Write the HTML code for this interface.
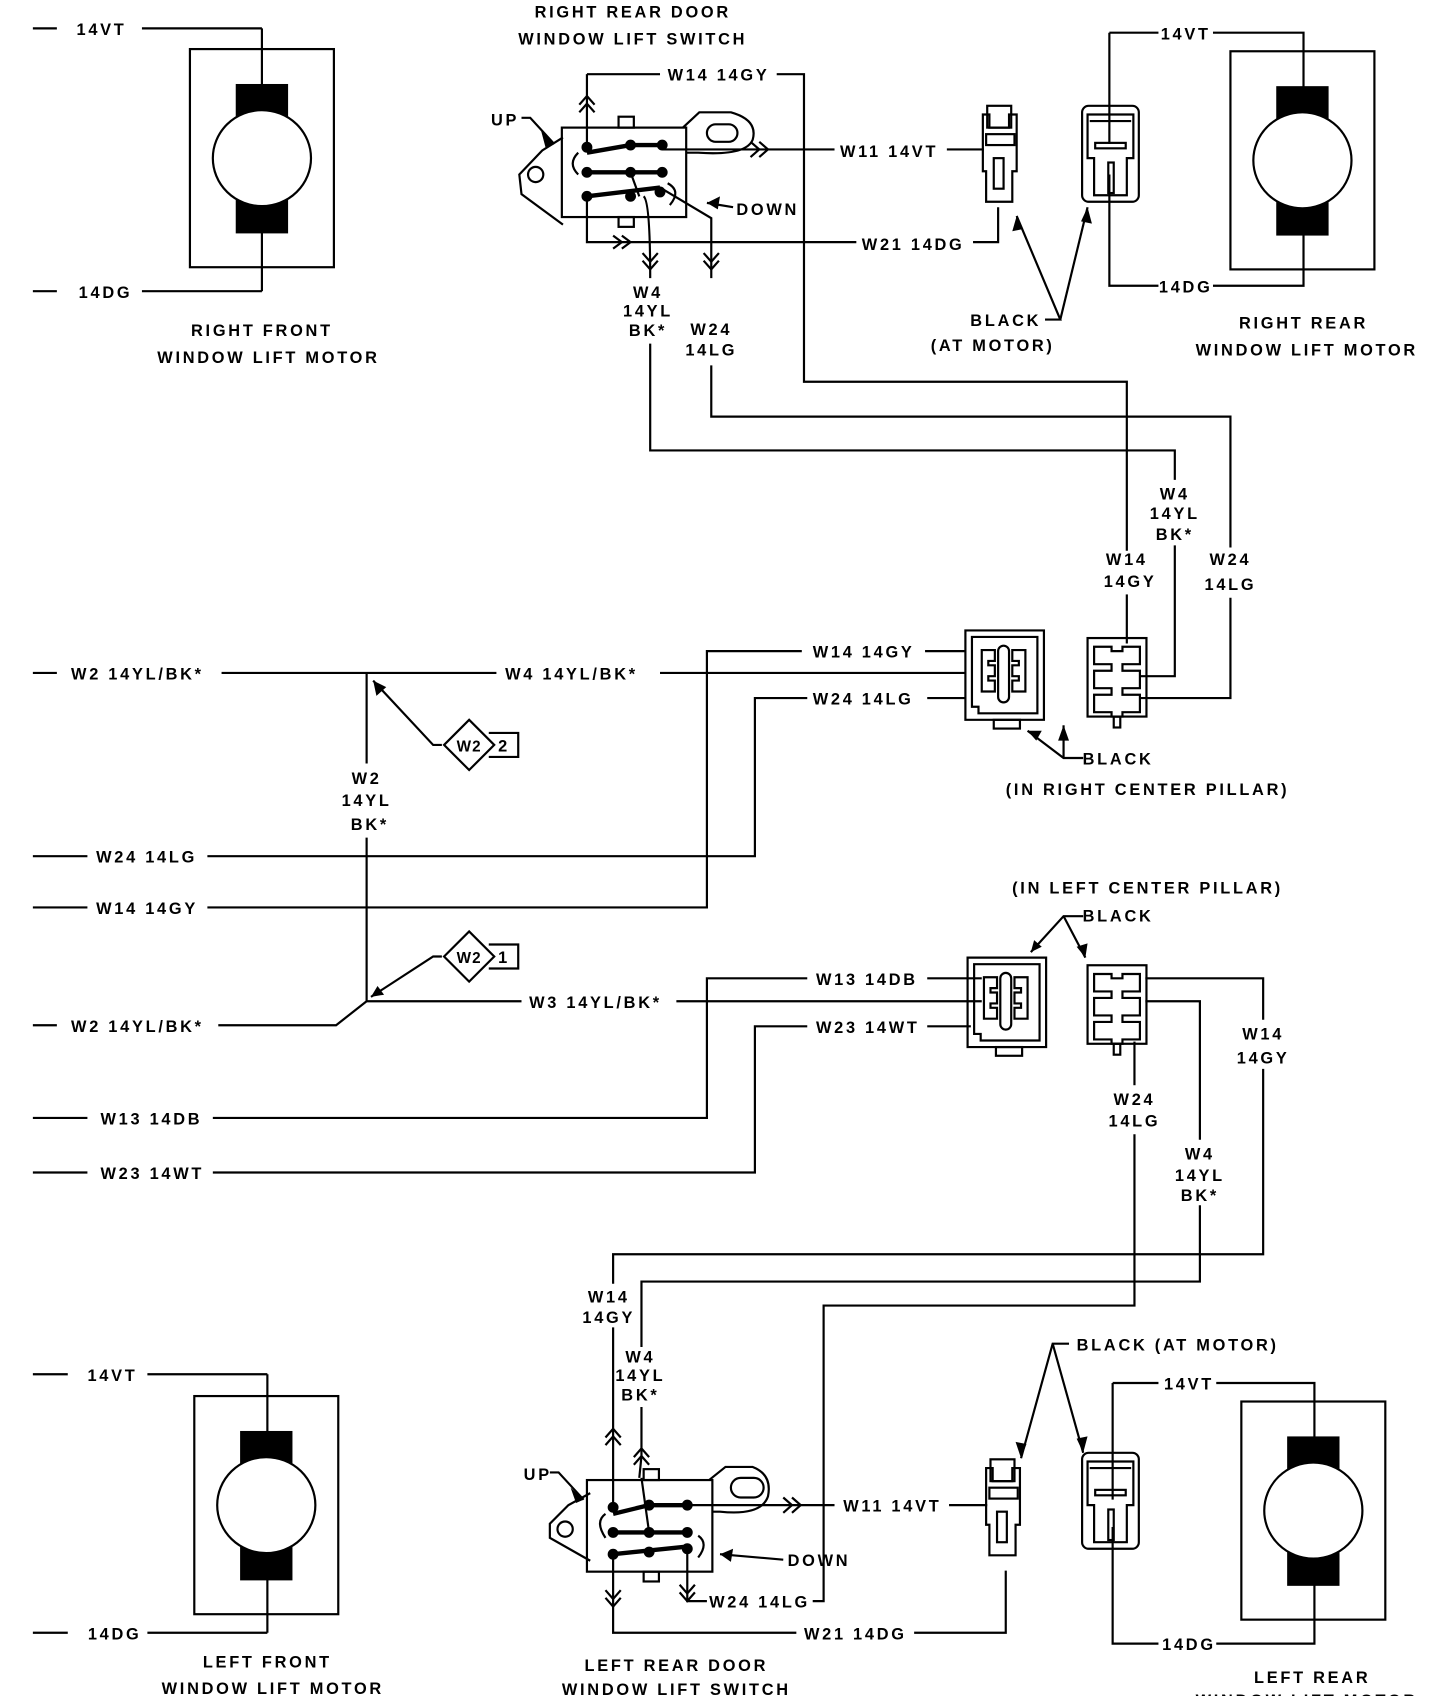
<!DOCTYPE html>
<html><head><meta charset="utf-8"><style>
html,body{margin:0;padding:0;background:#fff}
svg{display:block}
text{font-family:"Liberation Sans",sans-serif;font-weight:bold;font-size:15px;letter-spacing:2.5px;fill:#000}
</style></head><body>
<svg width="1440" height="1696" viewBox="0 0 1320 1555" xmlns="http://www.w3.org/2000/svg">
<defs>
<g id="motor" fill="none" stroke="#000" stroke-width="2">
 <rect x="0" y="0" width="132" height="200"/>
 <rect x="43" y="33" width="46" height="32" fill="#000"/>
 <rect x="43" y="135" width="46" height="33" fill="#000"/>
 <ellipse cx="66" cy="100" rx="45" ry="44" fill="#fff"/>
</g>
<g id="smallc" fill="none" stroke="#000" stroke-width="2">
 <rect x="8" y="0" width="22" height="20" fill="#fff"/>
 <path d="M4,8 h6 v12 h18 v-12 h7 v52 h-4 v28 h-24 v-28 h-3 z"/>
 <rect x="7" y="26" width="26" height="10"/>
 <rect x="14" y="48" width="9" height="28"/>
</g>
<g id="bigc" fill="none" stroke="#000" stroke-width="2">
 <rect x="0" y="0" width="52" height="88" rx="6"/>
 <path d="M5,8 h42 v40 h-6 v34 h-30 v-34 h-6 z"/>
 <line x1="7" y1="14" x2="45" y2="14"/>
 <rect x="12" y="34" width="28" height="5"/>
 <rect x="24" y="52" width="5" height="28"/>
</g>
<g id="femc" fill="none" stroke="#000" stroke-width="2">
 <path d="M0,0 h72 v82 h-72 z"/>
 <path d="M6,6 h60 v70 h-54 v-6 h-6 z"/>
 <rect x="26" y="82" width="24" height="8"/>
 <path d="M15,18 h12 v10 h-6 v4 h6 v10 h-6 v4 h6 v10 h-12 z"/>
 <path d="M55,18 h-12 v10 h6 v4 h-6 v10 h6 v4 h-6 v10 h12 z"/>
 <rect x="30" y="14" width="10" height="52" rx="5"/>
</g>
<g id="malec" fill="none" stroke="#000" stroke-width="2">
 <rect x="0" y="0" width="54" height="72"/>
 <path d="M6,8 h16 v4 h10 v-4 h16 v16 h-16 v6 h16 v16 h-16 v6 h16 v16 h-16 v4 h-10 v-4 h-16 v-16 h16 v-6 h-16 v-16 h16 v-6 h-16 z"/>
 <rect x="24" y="72" width="6" height="10"/>
</g>
</defs>

<g fill="none" stroke="#000" stroke-width="2">
<use href="#motor" x="174" y="45"/>
<line x1="30" y1="26" x2="52" y2="26"/><line x1="130" y1="26" x2="240" y2="26"/><line x1="240" y1="26" x2="240" y2="78"/>
<line x1="30" y1="267" x2="52" y2="267"/><line x1="130" y1="267" x2="240" y2="267"/><line x1="240" y1="267" x2="240" y2="213"/>

<path d="M516,126 L497,138 L476,160 L478,178 L516,206"/>
<circle cx="491" cy="160" r="7"/>
<rect x="515" y="117" width="114" height="82"/>
<rect x="567" y="107" width="14" height="10"/><rect x="567" y="199" width="14" height="9"/>
<path d="M626,117 L641,103 L670,103 Q695,110 690,128 Q684,143 640,140 L629,140"/>
<rect x="648" y="114" width="28" height="16" rx="8"/>
<g stroke-width="4"><line x1="538" y1="140" x2="578" y2="133"/><line x1="578" y1="133" x2="607" y2="133"/>
<line x1="538" y1="158" x2="607" y2="158"/><line x1="538" y1="180" x2="605" y2="172"/></g>
<g fill="#000"><circle cx="538" cy="135" r="4"/><circle cx="578" cy="133" r="4"/><circle cx="607" cy="133" r="4"/><circle cx="538" cy="158" r="4"/><circle cx="578" cy="158" r="4"/><circle cx="607" cy="158" r="4"/><circle cx="538" cy="180" r="4"/><circle cx="578" cy="180" r="4"/><circle cx="605" cy="176" r="4"/></g>
<path d="M530,140 Q520,150 530,160"/><path d="M612,168 Q625,175 614,188"/>
<line x1="578" y1="158" x2="586" y2="180"/>
<path d="M538,68 L538,135"/><path d="M531,96 L538,88 L545,96 M531,103 L538,95 L545,103"/>
<path d="M538,68 L605,68"/><path d="M712,68 L737,68 L737,350 L1033,350 L1033,505"/>
<path d="M607,137 L765,137"/><path d="M688,130 L696,137 L688,144 M696,130 L704,137 L696,144"/><path d="M868,137 L902,137"/>
<path d="M538,180 L538,222 L785,222"/><path d="M562,216 L570,222 L562,228 M570,216 L578,222 L570,228"/><path d="M892,222 L915,222 L915,190"/>
<path d="M590,180 Q596,185 596,255"/><path d="M589,232 L596,240 L603,232 M589,239 L596,247 L603,239"/>
<path d="M596,315 L596,413 L1077,413 L1077,440"/>
<path d="M605,172 L652,200 L652,255"/><path d="M645,232 L652,240 L659,232 M645,239 L652,247 L659,239"/>
<path d="M652,335 L652,382 L1128,382 L1128,502"/>
<path d="M478,108 L486,108 L508,132"/>
<path d="M672,190 L648,186"/>

<use href="#smallc" x="897" y="97"/>
<use href="#bigc" x="992" y="97"/>
<use href="#motor" x="1128" y="47"/>
<path d="M1017,30 L1062,30"/><path d="M1112,30 L1195,30 L1195,80"/><path d="M1017,30 L1017,132"/>
<path d="M1017,160 L1017,262 L1062,262"/><path d="M1112,262 L1195,262 L1195,215"/>
<path d="M958,293 L972,293 L932,198"/><path d="M972,293 L997,190"/>

<line x1="30" y1="617" x2="52" y2="617"/><line x1="203" y1="617" x2="455" y2="617"/><line x1="605" y1="617" x2="885" y2="617"/>
<line x1="336" y1="617" x2="336" y2="700"/><line x1="336" y1="768" x2="336" y2="918"/>
<path d="M405,683 L397,683 L342,624"/>
<path d="M407,683 L430,660 L453,683 L430,706 Z"/><path d="M448,672 L475,672 L475,694 L448,694"/>
<path d="M30,785 L80,785"/><path d="M190,785 L692,785 L692,640 L740,640"/><path d="M850,640 L885,640"/>
<path d="M30,832 L80,832"/><path d="M190,832 L648,832 L648,597 L735,597"/><path d="M848,597 L885,597"/>
<use href="#femc" x="885" y="578"/>
<use href="#malec" x="997" y="585"/>
<path d="M1033,545 L1033,590"/><path d="M1077,500 L1077,620 L1045,620"/><path d="M1128,548 L1128,640 L1045,640"/>
<path d="M993,695 L975,695 L942,670"/><path d="M975,695 L975,665"/>

<line x1="30" y1="940" x2="52" y2="940"/><path d="M200,940 L308,940 L336,918 L478,918"/><path d="M620,918 L900,918"/>
<path d="M405,877 L397,877 L340,914"/>
<path d="M407,877 L430,854 L453,877 L430,900 Z"/><path d="M448,866 L475,866 L475,888 L448,888"/>
<path d="M30,1025 L80,1025"/><path d="M195,1025 L648,1025 L648,897 L740,897"/><path d="M850,897 L900,897"/>
<path d="M30,1075 L80,1075"/><path d="M195,1075 L692,1075 L692,941 L740,941"/><path d="M850,941 L890,941"/>
<use href="#femc" x="887" y="878"/>
<use href="#malec" x="997" y="885"/>
<path d="M993,840 L975,840 L945,873"/><path d="M975,840 L995,878"/>
<path d="M1050,897 L1158,897 L1158,935"/><path d="M1158,980 L1158,1150 L562,1150 L562,1177"/>
<path d="M1040,955 L1040,995"/><path d="M1040,1040 L1040,1197 L755,1197 L755,1468 L745,1468"/>
<path d="M1050,918 L1100,918 L1100,1045"/><path d="M1100,1105 L1100,1175 L588,1175 L588,1235"/>

<path d="M562,1217 L562,1380"/><path d="M555,1318 L562,1310 L569,1318 M555,1325 L562,1317 L569,1325"/>
<path d="M588,1290 L588,1335 L586,1355"/><path d="M581,1336 L588,1328 L595,1336 M581,1343 L588,1335 L595,1343"/>
<path d="M541,1369 L521,1380 L504,1397 L504,1410 L541,1431"/>
<circle cx="518" cy="1402" r="7"/>
<rect x="538" y="1357" width="115" height="84"/>
<rect x="590" y="1347" width="14" height="10"/><rect x="590" y="1441" width="14" height="9"/>
<path d="M650,1357 L665,1345 L690,1345 Q708,1352 704,1372 Q698,1390 660,1386 L653,1386"/>
<rect x="670" y="1355" width="30" height="18" rx="9"/>
<g stroke-width="4"><line x1="562" y1="1388" x2="595" y2="1380"/><line x1="595" y1="1380" x2="630" y2="1380"/>
<line x1="562" y1="1405" x2="630" y2="1405"/><line x1="562" y1="1425" x2="630" y2="1418"/></g>
<g fill="#000"><circle cx="562" cy="1382" r="4"/><circle cx="595" cy="1380" r="4"/><circle cx="630" cy="1380" r="4"/><circle cx="562" cy="1405" r="4"/><circle cx="595" cy="1405" r="4"/><circle cx="630" cy="1405" r="4"/><circle cx="562" cy="1425" r="4"/><circle cx="595" cy="1423" r="4"/><circle cx="630" cy="1420" r="4"/></g>
<path d="M555,1388 Q545,1395 555,1410"/><path d="M640,1408 Q650,1415 640,1428"/>
<line x1="588" y1="1355" x2="595" y2="1405"/>
<path d="M562,1425 L562,1497 L730,1497"/><path d="M555,1458 L562,1466 L569,1458 M555,1465 L562,1473 L569,1465"/>
<path d="M630,1420 L630,1468 L648,1468"/><path d="M623,1453 L630,1461 L637,1453 M623,1460 L630,1468 L637,1460"/>
<path d="M630,1380 L765,1380"/><path d="M718,1373 L726,1380 L718,1387 M726,1373 L734,1380 L726,1387"/><path d="M870,1380 L905,1380"/>
<path d="M838,1497 L922,1497 L922,1440"/>
<path d="M504,1350 L512,1350 L535,1375"/>
<path d="M718,1430 L660,1425"/>
<use href="#smallc" x="900" y="1338"/>
<use href="#bigc" x="992" y="1332"/>
<path d="M980,1232 L965,1232 L936,1337"/><path d="M965,1232 L993,1332"/>
<use href="#motor" x="1138" y="1285"/>
<path d="M1020,1268 L1062,1268"/><path d="M1115,1268 L1205,1268 L1205,1318"/><path d="M1020,1268 L1020,1375"/>
<path d="M1020,1400 L1020,1507 L1062,1507"/><path d="M1115,1507 L1205,1507 L1205,1452"/>

<use href="#motor" x="178" y="1280"/>
<line x1="30" y1="1260" x2="62" y2="1260"/><line x1="135" y1="1260" x2="245" y2="1260"/><line x1="245" y1="1260" x2="245" y2="1313"/>
<line x1="30" y1="1497" x2="62" y2="1497"/><line x1="135" y1="1497" x2="245" y2="1497"/><line x1="245" y1="1497" x2="245" y2="1448"/>
</g>

<g fill="#000">
<polygon points="508,132 496,120 500,135"/>
<polygon points="648,186 660,180 658,192"/>
<polygon points="932,198 928,212 938,210"/>
<polygon points="997,190 991,203 1001,205"/>
<polygon points="342,624 345,638 354,630"/>
<polygon points="340,914 346,904 352,912"/>
<polygon points="942,670 950,679 955,670"/>
<polygon points="975,665 970,679 980,679"/>
<polygon points="945,873 948,862 955,868"/>
<polygon points="995,878 987,868 997,865"/>
<polygon points="535,1375 523,1364 528,1378"/>
<polygon points="660,1425 672,1420 670,1432"/>
<polygon points="936,1337 931,1322 941,1324"/>
<polygon points="993,1332 987,1319 997,1317"/>
</g>

<text x="70" y="32">14VT</text>
<text x="72" y="273">14DG</text>
<text x="240" y="308" text-anchor="middle">RIGHT FRONT</text>
<text x="246" y="333" text-anchor="middle">WINDOW LIFT MOTOR</text>
<text x="580" y="16" text-anchor="middle">RIGHT REAR DOOR</text>
<text x="580" y="41" text-anchor="middle">WINDOW LIFT SWITCH</text>
<text x="612" y="74">W14 14GY</text>
<text x="450" y="115">UP</text>
<text x="675" y="197">DOWN</text>
<text x="770" y="144">W11 14VT</text>
<text x="790" y="229">W21 14DG</text>
<text x="594" y="273" text-anchor="middle">W4</text>
<text x="594" y="290" text-anchor="middle">14YL</text>
<text x="594" y="308" text-anchor="middle">BK*</text>
<text x="652" y="307" text-anchor="middle">W24</text>
<text x="652" y="326" text-anchor="middle">14LG</text>
<text x="922" y="299" text-anchor="middle">BLACK</text>
<text x="910" y="322" text-anchor="middle">(AT MOTOR)</text>
<text x="1087" y="36" text-anchor="middle">14VT</text>
<text x="1087" y="268" text-anchor="middle">14DG</text>
<text x="1195" y="301" text-anchor="middle">RIGHT REAR</text>
<text x="1198" y="326" text-anchor="middle">WINDOW LIFT MOTOR</text>
<text x="1077" y="458" text-anchor="middle">W4</text>
<text x="1077" y="476" text-anchor="middle">14YL</text>
<text x="1077" y="495" text-anchor="middle">BK*</text>
<text x="1033" y="518" text-anchor="middle">W14</text>
<text x="1036" y="538" text-anchor="middle">14GY</text>
<text x="1128" y="518" text-anchor="middle">W24</text>
<text x="1128" y="541" text-anchor="middle">14LG</text>
<text x="65" y="623">W2 14YL/BK*</text>
<text x="463" y="623">W4 14YL/BK*</text>
<text x="745" y="603">W14 14GY</text>
<text x="745" y="646">W24 14LG</text>
<text x="430" y="689" text-anchor="middle" style="font-size:14px;letter-spacing:1px">W2</text>
<text x="462" y="689" text-anchor="middle">2</text>
<text x="336" y="719" text-anchor="middle">W2</text>
<text x="336" y="739" text-anchor="middle">14YL</text>
<text x="339" y="761" text-anchor="middle">BK*</text>
<text x="1025" y="701" text-anchor="middle">BLACK</text>
<text x="1052" y="729" text-anchor="middle">(IN RIGHT CENTER PILLAR)</text>
<text x="88" y="791">W24 14LG</text>
<text x="88" y="838">W14 14GY</text>
<text x="1052" y="819" text-anchor="middle">(IN LEFT CENTER PILLAR)</text>
<text x="1025" y="845" text-anchor="middle">BLACK</text>
<text x="430" y="883" text-anchor="middle" style="font-size:14px;letter-spacing:1px">W2</text>
<text x="462" y="883" text-anchor="middle">1</text>
<text x="65" y="946">W2 14YL/BK*</text>
<text x="485" y="924">W3 14YL/BK*</text>
<text x="748" y="903">W13 14DB</text>
<text x="748" y="947">W23 14WT</text>
<text x="1158" y="953" text-anchor="middle">W14</text>
<text x="1158" y="975" text-anchor="middle">14GY</text>
<text x="1040" y="1013" text-anchor="middle">W24</text>
<text x="1040" y="1033" text-anchor="middle">14LG</text>
<text x="1100" y="1063" text-anchor="middle">W4</text>
<text x="1100" y="1083" text-anchor="middle">14YL</text>
<text x="1100" y="1101" text-anchor="middle">BK*</text>
<text x="92" y="1031">W13 14DB</text>
<text x="92" y="1081">W23 14WT</text>
<text x="558" y="1194" text-anchor="middle">W14</text>
<text x="558" y="1213" text-anchor="middle">14GY</text>
<text x="587" y="1249" text-anchor="middle">W4</text>
<text x="587" y="1266" text-anchor="middle">14YL</text>
<text x="587" y="1284" text-anchor="middle">BK*</text>
<text x="987" y="1238">BLACK (AT MOTOR)</text>
<text x="480" y="1357">UP</text>
<text x="722" y="1436">DOWN</text>
<text x="773" y="1386">W11 14VT</text>
<text x="650" y="1474">W24 14LG</text>
<text x="737" y="1503">W21 14DG</text>
<text x="1090" y="1274" text-anchor="middle">14VT</text>
<text x="1090" y="1513" text-anchor="middle">14DG</text>
<text x="103" y="1266" text-anchor="middle">14VT</text>
<text x="105" y="1503" text-anchor="middle">14DG</text>
<text x="245" y="1529" text-anchor="middle">LEFT FRONT</text>
<text x="250" y="1553" text-anchor="middle">WINDOW LIFT MOTOR</text>
<text x="620" y="1532" text-anchor="middle">LEFT REAR DOOR</text>
<text x="620" y="1554" text-anchor="middle">WINDOW LIFT SWITCH</text>
<text x="1203" y="1543" text-anchor="middle">LEFT REAR</text>
<text x="1198" y="1564" text-anchor="middle">WINDOW LIFT MOTOR</text>
</svg>
</body></html>
